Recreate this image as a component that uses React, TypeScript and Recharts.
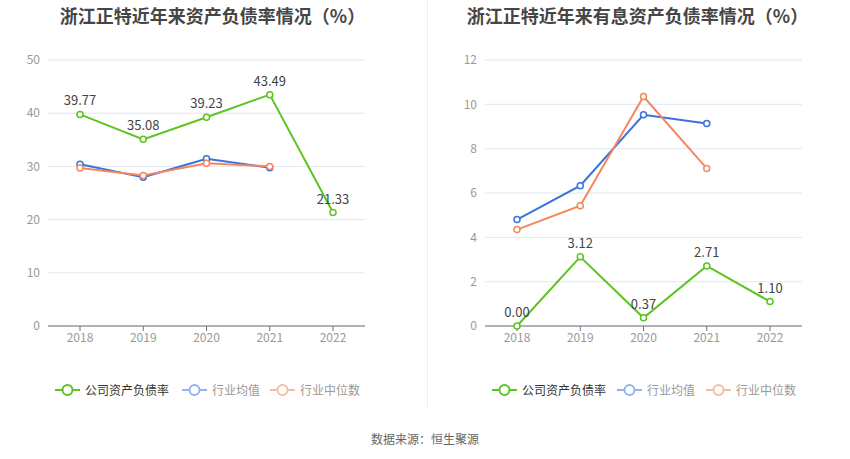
import { LineChart, Line, XAxis, YAxis, CartesianGrid, LabelList } from 'recharts'

const years = ['2018', '2019', '2020', '2021', '2022']

// 资产负债率
const debtCompany = [39.77, 35.08, 39.23, 43.49, 21.33]
const debtIndustryAvg = [30.4, 27.95, 31.45, 29.76, null]
const debtIndustryMedian = [29.7, 28.3, 30.6, 30.0, null]
const debtTicks = [0, 10, 20, 30, 40, 50]

// 有息资产负债率
const interestCompany = [0.0, 3.12, 0.37, 2.71, 1.1]
const interestIndustryAvg = [4.8, 6.33, 9.53, 9.14, null]
const interestIndustryMedian = [4.35, 5.43, 10.35, 7.11, null]
const interestTicks = [0, 2, 4, 6, 8, 10, 12]

const seriesNames = ['公司资产负债率', '行业均值', '行业中位数']

const GREEN = '#5cc41f'
const BLUE = '#3872e0'
const ORANGE = '#f5875c'
const FONT = '"Noto Sans CJK SC", "Noto Sans", sans-serif'

function buildRows(a: (number | null)[], b: (number | null)[], c: (number | null)[]) {
    return years.map((year, i) => ({ year, company: a[i], avg: b[i], median: c[i] }))
}

interface PanelProps {
    left: number
    title: string
    rows: ReturnType<typeof buildRows>
    ticks: number[]
    yWidth: number
    rightMargin: number
    legendX: number[]
}

function Panel({ left, title, rows, ticks, yWidth, rightMargin, legendX }: PanelProps) {
    const dot = (color: string) => ({ r: 3, stroke: color, strokeWidth: 1.5, fill: '#fff' })
    const legendColors = [GREEN, '#93b3f2', '#f8bca4']
    const legendText = ['#333', '#999', '#999']
    return (
        <div style={{ position: 'absolute', left, top: 0, width: 425, height: 420 }}>
            <div
                style={{
                    position: 'absolute',
                    top: 2,
                    left: 0,
                    width: 425,
                    textAlign: 'center',
                    fontSize: 18,
                    fontWeight: 'bold',
                    color: '#464646',
                    fontFamily: FONT,
                }}
            >
                {title}
            </div>
            <LineChart
                width={425}
                height={360}
                data={rows}
                margin={{ top: 60, right: rightMargin, bottom: 0, left: 0 }}
                style={{ position: 'absolute', top: 0, left: 0 }}
            >
                <CartesianGrid vertical={false} stroke="#e0e6f1" />
                <XAxis
                    dataKey="year"
                    padding={{ left: 32, right: 32 }}
                    stroke="#6e7079"
                    tickSize={5}
                    height={34}
                    tick={{ fill: '#999', fontSize: 12, fontFamily: FONT }}
                />
                <YAxis
                    width={yWidth}
                    domain={[ticks[0], ticks[ticks.length - 1]]}
                    ticks={ticks}
                    axisLine={false}
                    tickLine={false}
                    tickMargin={2}
                    tick={{ fill: '#999', fontSize: 12, fontFamily: FONT }}
                />
                <Line
                    dataKey="avg"
                    stroke={BLUE}
                    strokeWidth={2}
                    dot={dot(BLUE)}
                    isAnimationActive={false}
                />
                <Line
                    dataKey="median"
                    stroke={ORANGE}
                    strokeWidth={2}
                    dot={dot(ORANGE)}
                    isAnimationActive={false}
                />
                <Line
                    dataKey="company"
                    stroke={GREEN}
                    strokeWidth={2}
                    dot={dot(GREEN)}
                    isAnimationActive={false}
                >
                    <LabelList
                        dataKey="company"
                        position="top"
                        offset={9}
                        formatter={(v: number) => v.toFixed(2)}
                        style={{ fill: '#444', fontSize: 13, fontFamily: FONT }}
                    />
                </Line>
            </LineChart>
            {seriesNames.map((name, i) => (
                <div
                    key={name}
                    style={{
                        position: 'absolute',
                        left: legendX[i],
                        top: 381,
                        display: 'flex',
                        alignItems: 'center',
                        fontSize: 12,
                        fontFamily: FONT,
                        color: legendText[i],
                        whiteSpace: 'nowrap',
                    }}
                >
                    <svg width={25} height={14} style={{ marginRight: 5 }}>
                        <line x1={0} y1={7} x2={25} y2={7} stroke={legendColors[i]} strokeWidth={2} />
                        <circle cx={12.5} cy={7} r={5} fill="#fff" stroke={legendColors[i]} strokeWidth={2} />
                    </svg>
                    {name}
                </div>
            ))}
        </div>
    )
}

export default function App() {
    return (
        <div
            style={{
                position: 'absolute',
                left: 0,
                top: 0,
                width: 850,
                height: 459,
                background: '#fff',
                overflow: 'hidden',
            }}
        >
            <Panel
                left={0}
                title="浙江正特近年来资产负债率情况（%）"
                rows={buildRows(debtCompany, debtIndustryAvg, debtIndustryMedian)}
                ticks={debtTicks}
                yWidth={48}
                rightMargin={60}
                legendX={[55, 182, 270]}
            />
            <div
                style={{
                    position: 'absolute',
                    left: 427,
                    top: 0,
                    width: 1,
                    height: 408,
                    background: '#eeeeee',
                }}
            />
            <Panel
                left={425}
                title="浙江正特近年来有息资产负债率情况（%）"
                rows={buildRows(interestCompany, interestIndustryAvg, interestIndustryMedian)}
                ticks={interestTicks}
                yWidth={60}
                rightMargin={48}
                legendX={[67, 192, 281]}
            />
            <div
                style={{
                    position: 'absolute',
                    top: 430,
                    left: 0,
                    width: 850,
                    textAlign: 'center',
                    fontSize: 12,
                    color: '#666',
                    fontFamily: FONT,
                }}
            >
                数据来源：恒生聚源
            </div>
        </div>
    )
}
